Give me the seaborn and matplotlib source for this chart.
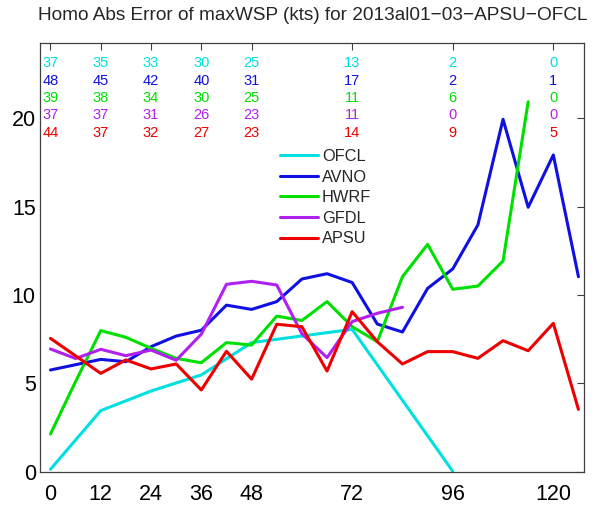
import matplotlib
matplotlib.use("Agg")
import matplotlib.pyplot as plt
import seaborn as sns
import pandas as pd

# Forecast lead times (hours)
hours_6h = [0, 6, 12, 18, 24, 30, 36, 42, 48, 54, 60, 66, 72, 78, 84,
            90, 96, 102, 108, 114, 120, 126]
ofcl_hours = [0, 12, 24, 36, 48, 72, 96]

# Homogeneous absolute max-wind errors (kts)
ofcl = [0.13, 3.45, 4.56, 5.47, 7.3, 8.05, 0.02]
avno = [5.75, 6.05, 6.35, 6.22, 7.07, 7.67, 8.0, 9.42, 9.18, 9.62, 10.9,
        11.2, 10.7, 8.35, 7.9, 10.37, 11.47, 13.96, 19.94, 14.96, 17.92, 11.03]
hwrf = [2.13, 5.1, 7.98, 7.6, 6.98, 6.41, 6.16, 7.3, 7.16, 8.8, 8.55,
        9.62, 8.2, 7.35, 11.03, 12.86, 10.32, 10.5, 11.92, 20.93]
gfdl = [6.94, 6.4, 6.92, 6.56, 6.88, 6.3, 7.78, 10.6, 10.77, 10.56, 7.8,
        6.45, 8.49, 8.96, 9.3]
apsu = [7.54, 6.55, 5.56, 6.32, 5.81, 6.09, 4.62, 6.81, 5.23, 8.34, 8.2,
        5.69, 9.05, 7.35, 6.09, 6.79, 6.79, 6.41, 7.41, 6.84, 8.39, 3.52]

models = ["OFCL", "AVNO", "HWRF", "GFDL", "APSU"]
colors = ["#00e0e0", "#1010e0", "#00e000", "#b020f0", "#ee0000"]

# Number of verifying cases at each labelled lead time
count_hours = [0, 12, 24, 36, 48, 72, 96, 120]
counts = {
    "OFCL": [37, 35, 33, 30, 25, 13, 2, 0],
    "AVNO": [48, 45, 42, 40, 31, 17, 2, 1],
    "HWRF": [39, 38, 34, 30, 25, 11, 6, 0],
    "GFDL": [37, 37, 31, 26, 23, 11, 0, 0],
    "APSU": [44, 37, 32, 27, 23, 14, 9, 5],
}

xticks = [0, 12, 24, 36, 48, 72, 96, 120]
yticks = [0, 5, 10, 15, 20]
title = "Homo Abs Error of maxWSP (kts) for 2013al01\u221203\u2212APSU\u2212OFCL"

series = {
    "OFCL": (ofcl_hours, ofcl),
    "AVNO": (hours_6h[:len(avno)], avno),
    "HWRF": (hours_6h[:len(hwrf)], hwrf),
    "GFDL": (hours_6h[:len(gfdl)], gfdl),
    "APSU": (hours_6h[:len(apsu)], apsu),
}
frames = [pd.DataFrame({"hour": h, "err": v, "model": m}) for m, (h, v) in series.items()]
df = pd.concat(frames, ignore_index=True)

sns.set_style("white")
plt.rcParams["font.family"] = ["Liberation Sans", "DejaVu Sans"]

fig = plt.figure(figsize=(5.96, 5.2), dpi=100)
ax = fig.add_axes([0.0671, 0.0931, 0.9133, 0.8236])

sns.lineplot(data=df, x="hour", y="err", hue="model", hue_order=models,
             palette=colors, linewidth=2.2, estimator=None, sort=True, ax=ax)

ax.set_xlim(-2.5, 127.4)
ax.set_ylim(0, 24.24)
ax.set_xticks(xticks)
ax.set_yticks(yticks)
ax.set_xlabel("")
ax.set_ylabel("")

for sp in ax.spines.values():
    sp.set_color("#404040")
    sp.set_linewidth(0.9)
ax.tick_params(direction="in", length=5, width=0.8, color="#404040",
               top=True, right=True, labelsize=15.5, labelcolor="black")
ax.tick_params(axis="x", pad=9)
ax.tick_params(axis="y", pad=3)

# Case counts, one row per model
for i, (m, c) in enumerate(zip(models, colors)):
    y = 23.1 - 0.98 * i
    for h, n in zip(count_hours, counts[m]):
        ax.text(h, y, str(n), color=c, ha="center", va="center", fontsize=10.5)

handles, labels = ax.get_legend_handles_labels()
leg = ax.legend(handles, labels, loc="upper left", bbox_to_anchor=(280 / 596, 1 - 149 / 520),
                bbox_transform=fig.transFigure, frameon=False, fontsize=11.8,
                handlelength=2.3, handletextpad=0.25, labelspacing=0.34, borderpad=0,
                borderaxespad=0)

fig.text(313 / 596, 1 - 15 / 520, title, ha="center", va="center", fontsize=13.7)

fig.savefig("out.png", dpi=100)
